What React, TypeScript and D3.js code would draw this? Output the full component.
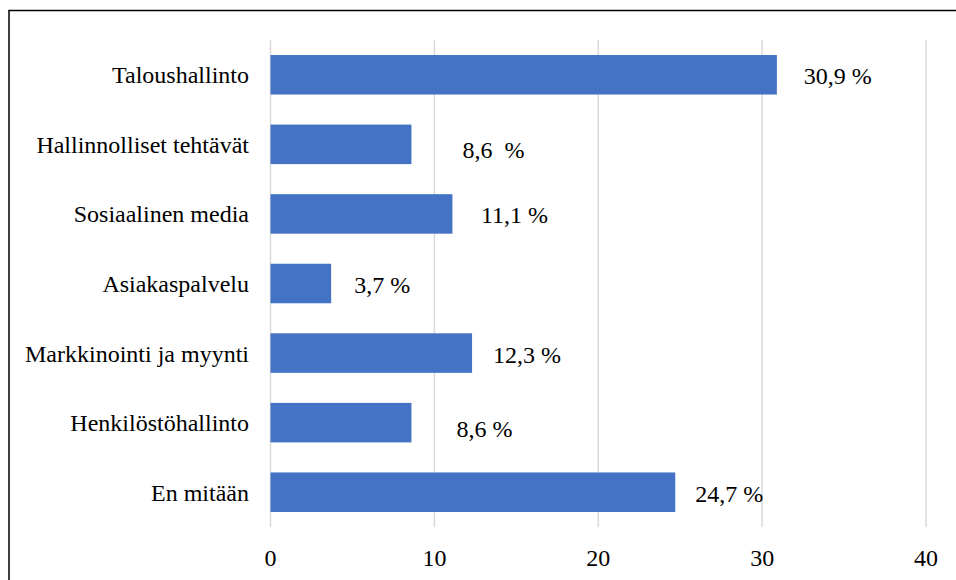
import React from "react";
import * as d3 from "d3";

const categories = [
  "Taloushallinto",
  "Hallinnolliset tehtävät",
  "Sosiaalinen media",
  "Asiakaspalvelu",
  "Markkinointi ja myynti",
  "Henkilöstöhallinto",
  "En mitään",
];
const values = [30.9, 8.6, 11.1, 3.7, 12.3, 8.6, 24.7];
const valueLabels = ["30,9 %", "8,6  %", "11,1 %", "3,7 %", "12,3 %", "8,6 %", "24,7 %"];
const ticks = [0, 10, 20, 30, 40];
// manual label nudges (as dragged in the original)
const labelDx = [27, 51, 28.5, 23, 21, 45, 20];
const labelDy = [0, 4, 0, 0, 0, 5, 0];

const W = 956;
const H = 580;
const textStyle: React.CSSProperties = {
  fontFamily: '"Liberation Serif"',
  fontSize: "24px",
  whiteSpace: "pre",
};

export default function App() {
  const x = d3.scaleLinear().domain([0, 40]).range([270.5, 926]);
  const y = d3
    .scaleBand<string>()
    .domain(categories)
    .range([40, 527])
    .paddingInner(0.432)
    .paddingOuter(0.216);
  const bw = y.bandwidth();

  return (
    <svg
      width={W}
      height={H}
      style={{ position: "absolute", left: 0, top: 0, background: "#fff" }}
    >
      <rect x={9} y={10.5} width={1000} height={1000} fill="#fff" stroke="#000" strokeWidth={1.5} />
      {ticks.map((t) => (
        <line key={"g" + t} x1={x(t)} x2={x(t)} y1={40} y2={527} stroke="#d9d9d9" strokeWidth={1.5} />
      ))}
      {categories.map((c, i) => (
        <rect key={"b" + c} x={x(0)} y={y(c)!} width={x(values[i]) - x(0)} height={bw} fill="#4472C4" />
      ))}
      {categories.map((c) => (
        <text key={"c" + c} x={249} y={y(c)! + bw / 2 + 8.5} textAnchor="end" fill="#000" style={textStyle}>
          {c}
        </text>
      ))}
      {categories.map((c, i) => (
        <text
          key={"v" + c}
          x={x(values[i]) + labelDx[i]}
          y={y(c)! + bw / 2 + 9.5 + labelDy[i]}
          fill="#000"
          style={textStyle}
        >
          {valueLabels[i]}
        </text>
      ))}
      {ticks.map((t) => (
        <text key={"t" + t} x={x(t)} y={566} textAnchor="middle" fill="#000" style={textStyle}>
          {t}
        </text>
      ))}
    </svg>
  );
}
